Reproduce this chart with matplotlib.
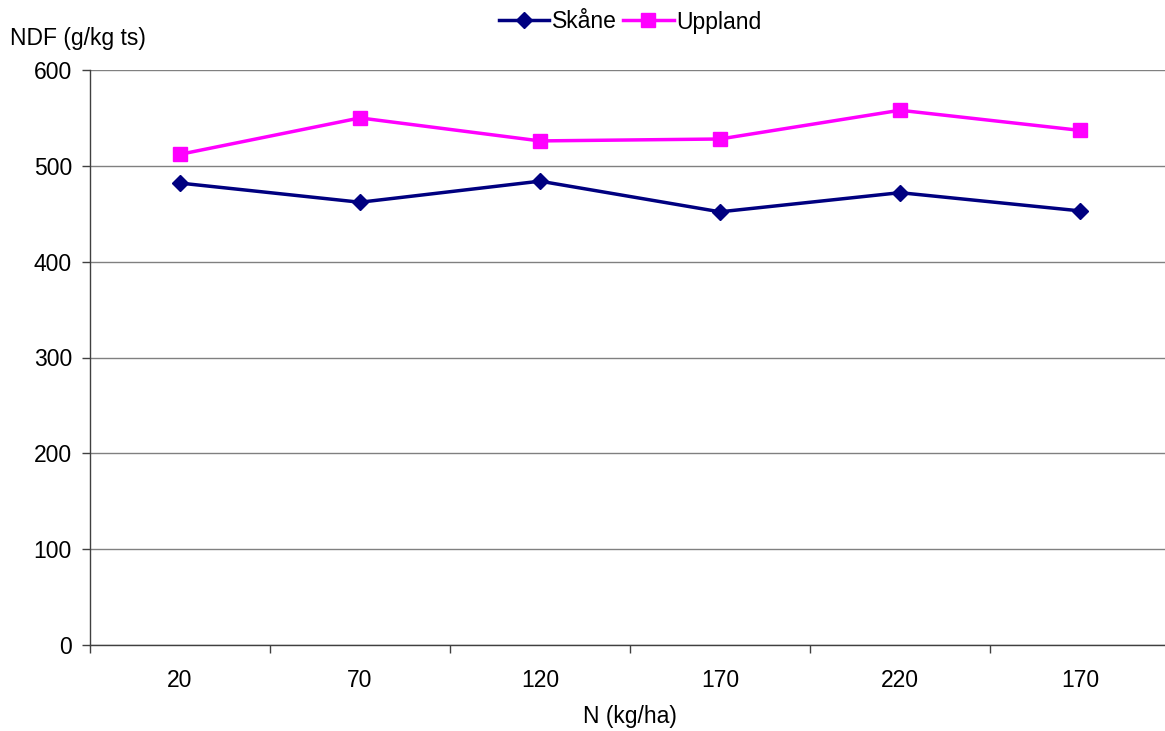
import matplotlib
matplotlib.use("Agg")
import matplotlib.pyplot as plt
import numpy as np

plt.rcParams['font.family'] = ['Liberation Sans', 'DejaVu Sans']

categories = ["20", "70", "120", "170", "220", "170"]
skane = [482, 462, 484, 452, 472, 453]
uppland = [512, 550, 526, 528, 558, 537]
yticks = [0, 100, 200, 300, 400, 500, 600]

W, H = 1165, 731
FS = 16.5
fig = plt.figure(figsize=(W/100, H/100), dpi=100)
ax = fig.add_axes([90/W, 1-645/H, 1080/W, (645-70)/H])

x = np.arange(len(categories))
ax.plot(x, skane, color='#000080', lw=2.5, marker='D', ms=8, label='Skåne')
ax.plot(x, uppland, color='#FF00FF', lw=2.5, marker='s', ms=9.5, label='Uppland')

ax.set_xlim(-0.5, 5.5)
ax.set_ylim(0, 600)
ax.set_yticks(yticks)
ax.set_yticklabels([str(v) for v in yticks], fontsize=FS)
ax.set_xticks(x)
ax.set_xticklabels(categories, fontsize=FS)
ax.set_xticks(np.arange(-0.5, 5.6, 1), minor=True)
ax.tick_params(axis='x', which='major', length=0, pad=17)
ax.tick_params(axis='x', which='minor', length=6, width=1, color='#404040')
ax.tick_params(axis='y', length=6, width=1, color='#404040', pad=7)

ax.yaxis.grid(True, color='#808080', lw=1)
ax.set_axisbelow(True)
for s in ['top', 'right']:
    ax.spines[s].set_visible(False)
for s in ['left', 'bottom']:
    ax.spines[s].set_color('#404040')
    ax.spines[s].set_linewidth(1)

fig.text(630/W, 1-717/H, "N (kg/ha)", ha='center', va='center', fontsize=FS)
fig.text(10/W, 1-38/H, "NDF (g/kg ts)", ha='left', va='center', fontsize=FS)

leg = fig.legend(loc='center', bbox_to_anchor=(630/W, 1-22/H), ncol=2, frameon=False,
                 fontsize=FS, handlelength=2.2, handletextpad=0.1, columnspacing=0.3,
                 borderpad=0, borderaxespad=0)

fig.savefig("out.png", dpi=100)
